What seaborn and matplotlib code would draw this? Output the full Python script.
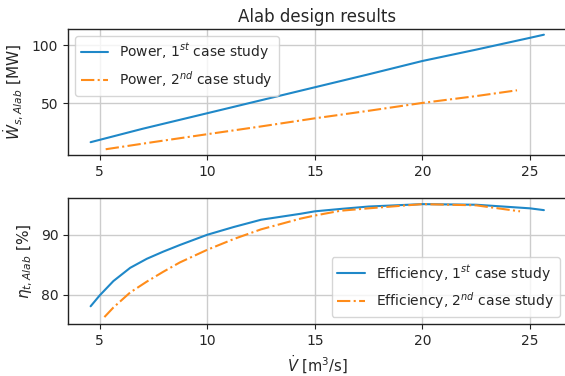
import matplotlib
matplotlib.use("Agg")
import matplotlib.pyplot as plt
import seaborn as sns
import pandas as pd

# Power data
pow1_x = [4.58, 7.0, 10.0, 12.5, 15.0, 17.5, 20.0, 22.5, 25.0, 25.65]
pow1_y = [16.4, 28.0, 41.4, 52.6, 63.8, 75.0, 86.5, 96.3, 106.5, 109.2]
pow2_x = [5.28, 7.5, 10.0, 12.5, 15.0, 17.5, 20.0, 22.5, 24.4]
pow2_y = [10.3, 16.5, 23.3, 30.0, 37.0, 43.5, 50.3, 56.2, 61.2]

# Efficiency data
eff1_x = [4.58, 5.0, 5.64, 6.42, 7.19, 7.96, 8.73, 10.0, 11.24, 12.5, 14.35, 15.0, 16.2, 17.5, 20.0, 22.5, 25.0, 25.65]
eff1_y = [78.1, 79.9, 82.3, 84.5, 86.0, 87.2, 88.3, 90.0, 91.3, 92.5, 93.5, 93.9, 94.3, 94.7, 95.1, 95.0, 94.4, 94.1]
eff2_x = [5.22, 5.64, 6.42, 7.19, 7.96, 8.73, 10.0, 11.24, 12.5, 14.35, 15.0, 16.2, 17.5, 20.0, 22.5, 24.54]
eff2_y = [76.3, 77.9, 80.4, 82.2, 83.85, 85.4, 87.5, 89.3, 90.9, 92.7, 93.2, 94.0, 94.4, 95.1, 94.9, 93.9]

labels_pow = [r"Power, 1$^{st}$ case study", r"Power, 2$^{nd}$ case study"]
labels_eff = [r"Efficiency, 1$^{st}$ case study", r"Efficiency, 2$^{nd}$ case study"]
title = "Alab design results"

sns.set_style("ticks")
plt.rcParams["font.family"] = ["DejaVu Sans"]
plt.rcParams["font.size"] = 10

c1 = "#1f88c8"
c2 = "#ff8c1a"

fig = plt.figure(figsize=(5.65, 3.76), dpi=100)
ax1 = fig.add_axes([0.1204, 0.5878, 0.883, 0.335])
ax2 = fig.add_axes([0.1204, 0.1383, 0.883, 0.334])

df_p1 = pd.DataFrame({"x": pow1_x, "y": pow1_y})
df_p2 = pd.DataFrame({"x": pow2_x, "y": pow2_y})
df_e1 = pd.DataFrame({"x": eff1_x, "y": eff1_y})
df_e2 = pd.DataFrame({"x": eff2_x, "y": eff2_y})

sns.lineplot(data=df_p1, x="x", y="y", ax=ax1, color=c1, lw=1.5, label=labels_pow[0])
sns.lineplot(data=df_p2, x="x", y="y", ax=ax1, color=c2, lw=1.5, ls="-.", label=labels_pow[1])
sns.lineplot(data=df_e1, x="x", y="y", ax=ax2, color=c1, lw=1.5, label=labels_eff[0])
sns.lineplot(data=df_e2, x="x", y="y", ax=ax2, color=c2, lw=1.5, ls="-.", label=labels_eff[1])

for ax in (ax1, ax2):
    ax.set_xlim(3.53, 26.72)
    ax.set_xticks([5, 10, 15, 20, 25])
    ax.grid(True, color="#cccccc", lw=1.0)
    ax.tick_params(labelsize=10, length=3.5, color="#222222")
    for s in ax.spines.values():
        s.set_color("#222222")
        s.set_linewidth(1.0)

ax1.set_ylim(5.35, 114.1)
ax1.set_yticks([50, 100])
ax2.set_ylim(75.15, 96.05)
ax2.set_yticks([80, 90])

ax1.set_title(title, fontsize=12, pad=5)
ax1.set_xlabel("")
ax1.set_ylabel(r"$\dot{W}_{s,Alab}$ [MW]", fontsize=11)
ax2.set_ylabel(r"$\eta_{t,Alab}$ [%]", fontsize=11)
ax2.set_xlabel(r"$\dot{V}$ [m$^3$/s]", fontsize=10.5)

ax1.legend(loc="upper left", fontsize=10, handlelength=2.0, framealpha=0.8)
ax2.legend(loc="lower right", fontsize=10, handlelength=2.0, framealpha=0.8)

fig.savefig("out.png", dpi=100)
